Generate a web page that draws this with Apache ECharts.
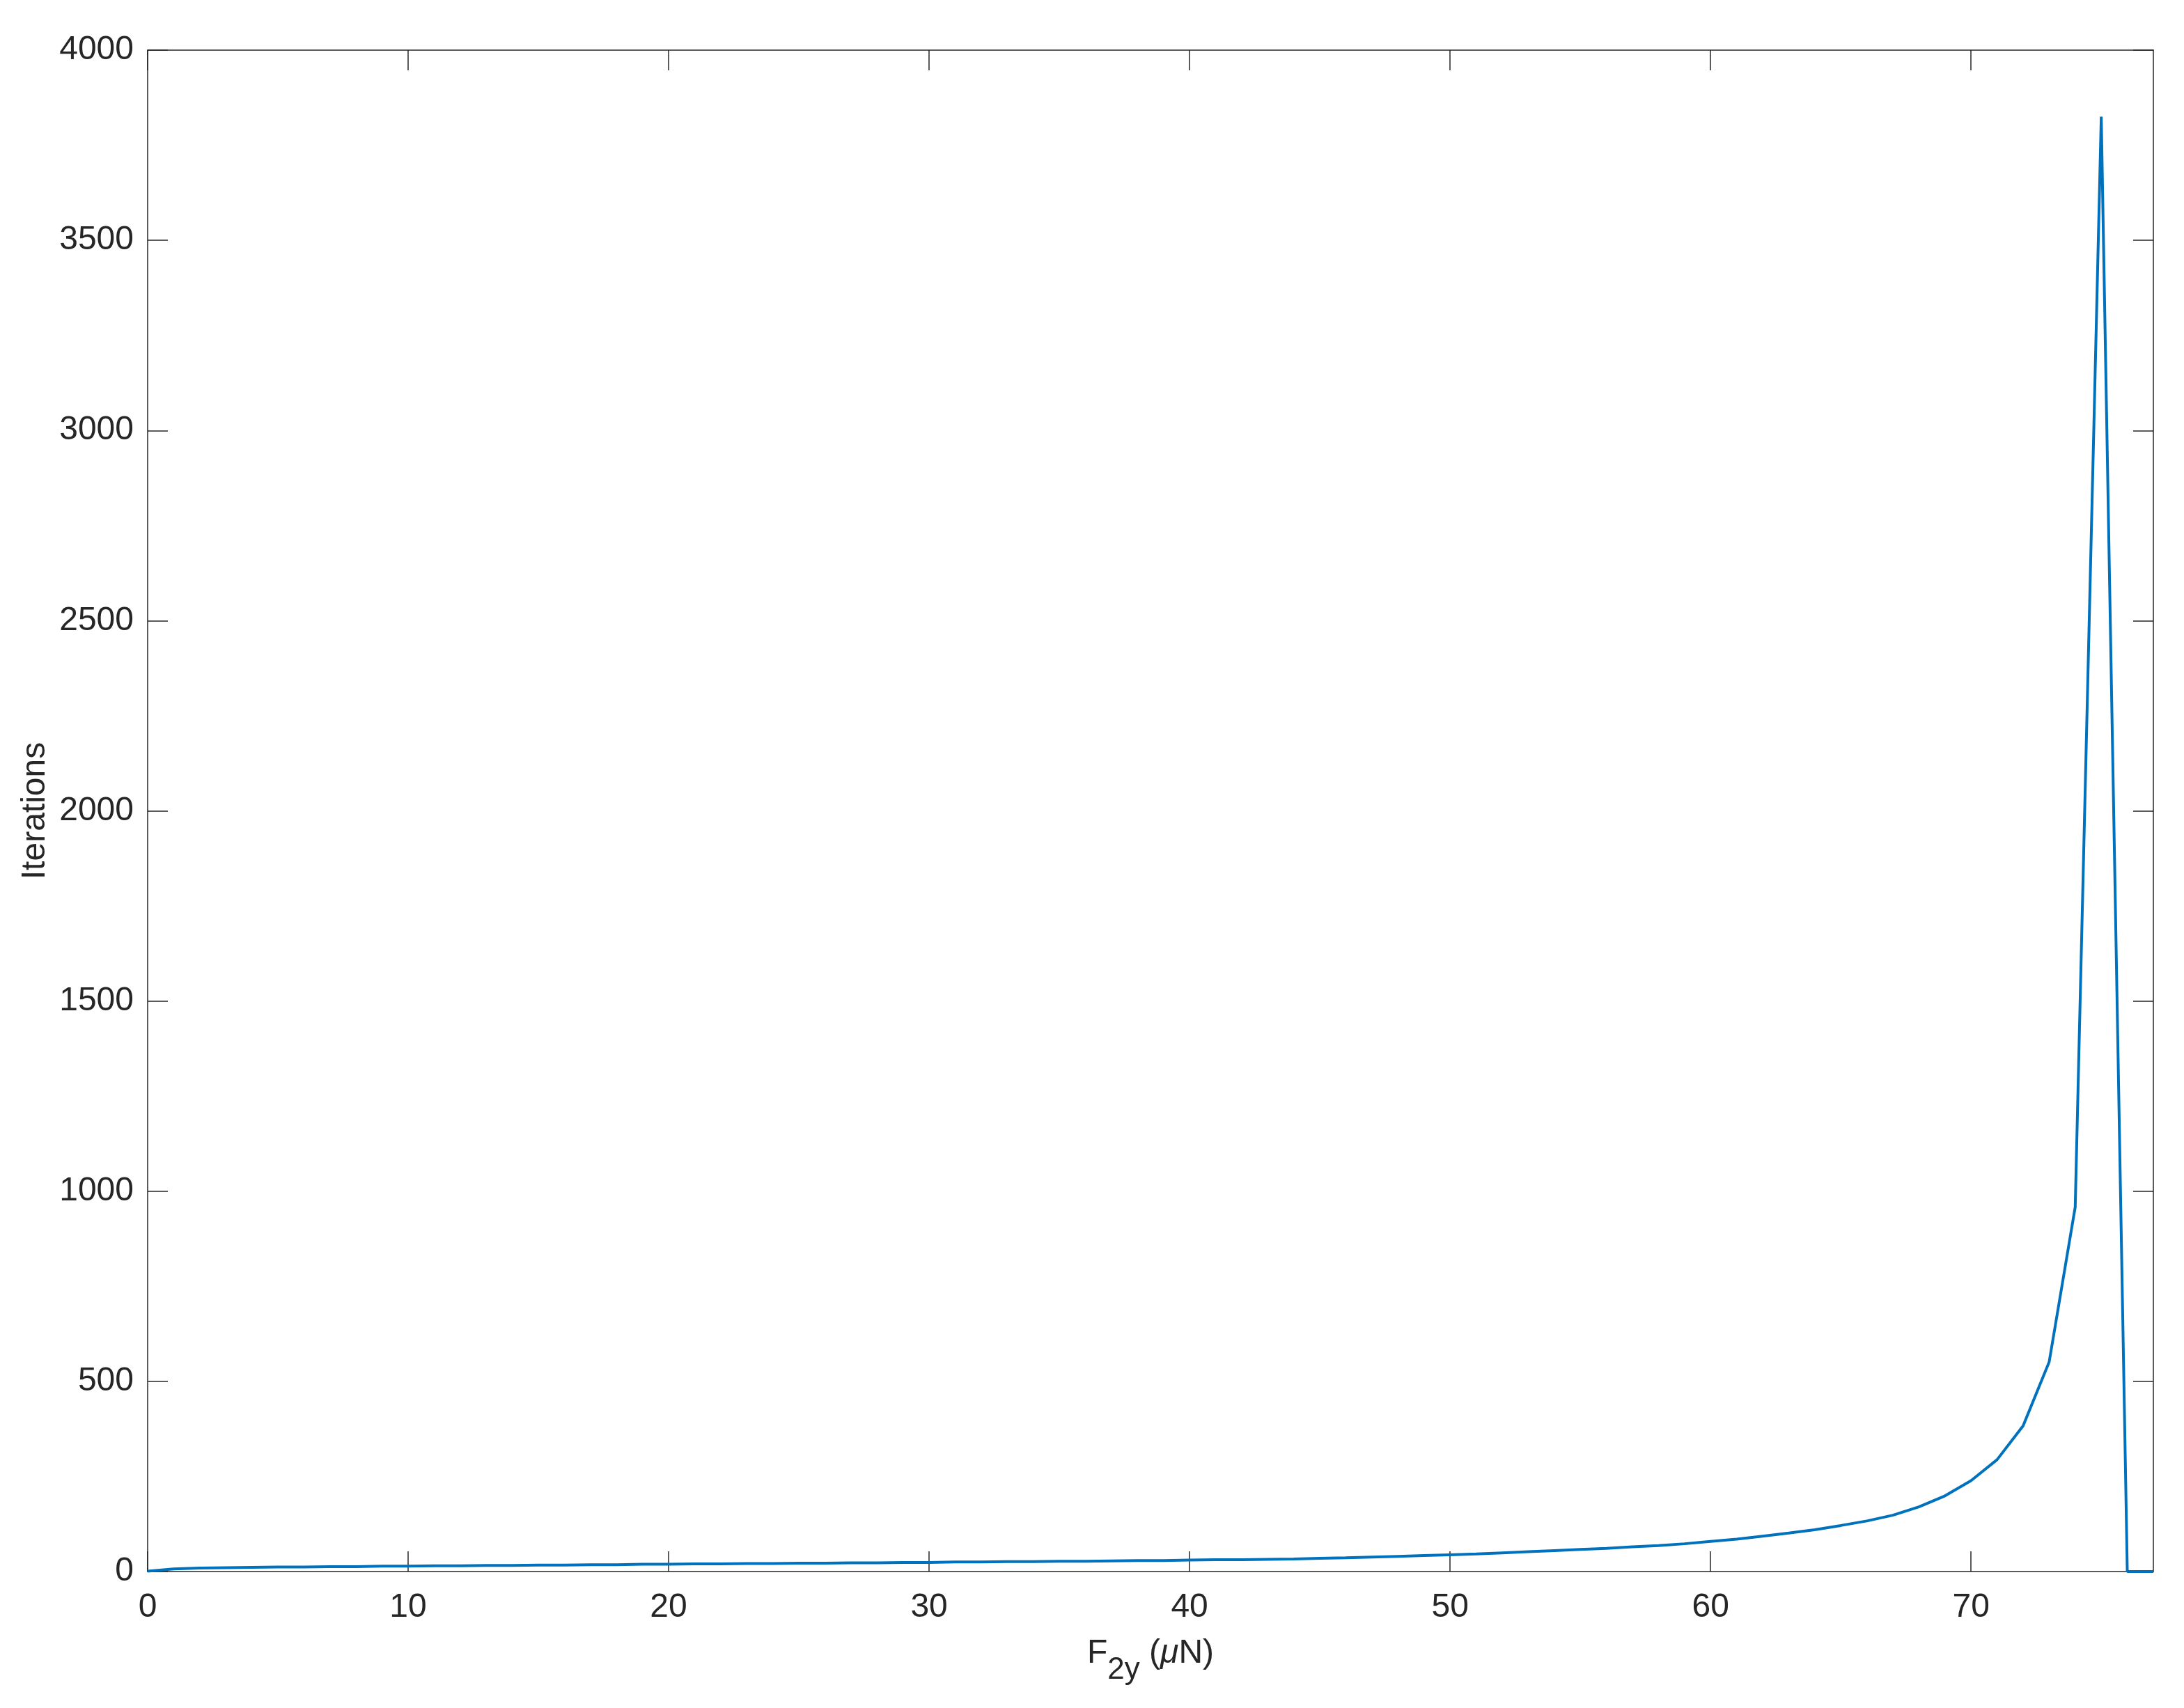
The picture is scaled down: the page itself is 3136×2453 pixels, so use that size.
<!DOCTYPE html>
<html>
<head>
<meta charset="utf-8">
<script src="https://cdn.jsdelivr.net/npm/echarts@6/dist/echarts.min.js"></script>
<style>
  html, body { margin: 0; padding: 0; background: #fff; }
  #chart { width: 3136px; height: 2453px; }
</style>
</head>
<body>
<div id="chart"></div>
<script>
// F2y (uN), one point per integer
const forceValues = [
  0, 1, 2, 3, 4, 5, 6, 7, 8, 9,
  10, 11, 12, 13, 14, 15, 16, 17, 18, 19,
  20, 21, 22, 23, 24, 25, 26, 27, 28, 29,
  30, 31, 32, 33, 34, 35, 36, 37, 38, 39,
  40, 41, 42, 43, 44, 45, 46, 47, 48, 49,
  50, 51, 52, 53, 54, 55, 56, 57, 58, 59,
  60, 61, 62, 63, 64, 65, 66, 67, 68, 69,
  70, 71, 72, 73, 74, 75, 76, 77
];
// iterations
const iterations = [
  1, 7, 9, 10, 11, 12, 12, 13, 13, 14,
  14, 15, 15, 16, 16, 17, 17, 18, 18, 19,
  19, 20, 20, 21, 21, 22, 22, 23, 23, 24,
  24, 25, 25, 26, 26, 27, 27, 28, 29, 29,
  30, 31, 31, 32, 33, 35, 36, 38, 40, 42,
  44, 46, 49, 52, 55, 58, 61, 65, 68, 73,
  79, 85, 93, 101, 110, 121, 133, 148, 170, 199,
  239, 294, 383, 551, 958, 3825, 0, 0
];
const xTicks = [0, 10, 20, 30, 40, 50, 60, 70];
const yTicks = [0, 500, 1000, 1500, 2000, 2500, 3000, 3500, 4000];

const axisColor = '#262626';
const fontFam = '"Liberation Sans", Arial, Helvetica, sans-serif';
const fontSz = 48;

const points = forceValues.map((x, i) => [x, iterations[i]]);

const chart = echarts.init(document.getElementById('chart'));

const baseX = {
  type: 'value',
  min: 0,
  max: 77,
  splitLine: {show: false},
  axisLine: {show: true, onZero: false, lineStyle: {color: axisColor, width: 1.5}},
  axisTick: {show: true, inside: true, length: 29, customValues: xTicks, lineStyle: {color: axisColor, width: 1.5}}
};
const baseY = {
  type: 'value',
  min: 0,
  max: 4000,
  interval: 500,
  splitLine: {show: false},
  axisLine: {show: true, onZero: false, lineStyle: {color: axisColor, width: 1.5}},
  axisTick: {show: true, inside: true, length: 29, customValues: yTicks, lineStyle: {color: axisColor, width: 1.5}}
};

const option = {
  animation: false,
  backgroundColor: '#ffffff',
  grid: {left: 212, right: 44, top: 72, bottom: 196, containLabel: false},
  xAxis: [
    Object.assign({}, baseX, {
      position: 'bottom',
      axisLabel: {
        show: true, customValues: xTicks, margin: 28,
        color: axisColor, fontSize: fontSz, fontFamily: fontFam
      },
      name: '{n|F}{s|2y}{n| (}{m|μ}{n|N)}',
      nameLocation: 'middle',
      nameGap: 94,
      nameTextStyle: {
        color: axisColor,
        fontFamily: fontFam,
        rich: {
          n: {fontSize: fontSz, color: axisColor, fontFamily: fontFam, verticalAlign: 'top', lineHeight: 56},
          s: {fontSize: 44, color: axisColor, fontFamily: fontFam, verticalAlign: 'top', lineHeight: 56, padding: [26, 0, 0, 0]},
          m: {fontSize: fontSz, color: axisColor, fontFamily: fontFam, fontStyle: 'italic', verticalAlign: 'top', lineHeight: 56}
        }
      }
    }),
    Object.assign({}, baseX, {
      position: 'top',
      axisLabel: {show: false}
    })
  ],
  yAxis: [
    Object.assign({}, baseY, {
      position: 'left',
      axisLabel: {
        show: true, margin: 20,
        formatter: function (v) { return String(v); },
        color: axisColor, fontSize: fontSz, fontFamily: fontFam
      },
      name: 'Iterations',
      nameLocation: 'middle',
      nameGap: 136,
      nameTextStyle: {color: axisColor, fontSize: fontSz, fontFamily: fontFam}
    }),
    Object.assign({}, baseY, {
      position: 'right',
      axisLabel: {show: false}
    })
  ],
  series: [
    {
      type: 'line',
      xAxisIndex: 0,
      yAxisIndex: 0,
      data: points,
      showSymbol: false,
      clip: true,
      lineStyle: {color: '#0072BD', width: 4},
      itemStyle: {color: '#0072BD'}
    }
  ]
};

chart.setOption(option);
</script>
</body>
</html>
